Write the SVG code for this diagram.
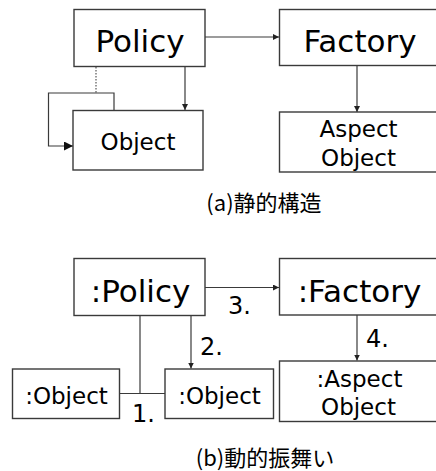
<svg xmlns="http://www.w3.org/2000/svg" width="436" height="471" viewBox="0 0 436 471">
  <style>
    .box { fill: #fff; stroke: #3a3a3a; stroke-width: 1.4; }
    .ln { fill: none; stroke: #3a3a3a; stroke-width: 1.2; }
    .dot { fill: none; stroke: #555; stroke-width: 1.2; stroke-dasharray: 1.5 1.5; }
    text { font-family: "DejaVu Sans", "Noto Sans CJK JP", sans-serif; fill: #000; text-anchor: middle; }
    .big { font-size: 31px; }
    .mid { font-size: 23px; }
    .num { font-size: 24px; text-anchor: start; }
    .cap { font-family: "Noto Sans CJK JP", sans-serif; font-size: 22px; }
  </style>
  <defs>
    <marker id="tip" viewBox="0 0 10 10" refX="10" refY="5" markerWidth="6" markerHeight="6" markerUnits="userSpaceOnUse" orient="auto">
      <path d="M0,0 L10,5 L0,10 Z" fill="#222"/>
    </marker>
    <marker id="tipBig" viewBox="0 0 10 10" refX="10" refY="5" markerWidth="13" markerHeight="9" markerUnits="userSpaceOnUse" orient="auto">
      <path d="M0,0 L10,5 L0,10 Z" fill="#111"/>
    </marker>
  </defs>

  <!-- (a) static structure -->
  <g id="connectors-a">
    <line class="ln" x1="205" y1="37" x2="279" y2="37" marker-end="url(#tip)"/>
    <line class="ln" x1="185" y1="67" x2="185" y2="110" marker-end="url(#tip)"/>
    <line class="ln" x1="357" y1="66" x2="357" y2="112" marker-end="url(#tip)"/>
    <line class="dot" x1="96" y1="67" x2="96" y2="93"/>
    <polyline class="ln" points="114,110 114,93 48.5,93 48.5,146 73,146" marker-end="url(#tipBig)"/>
  </g>
  <g id="policy">
    <rect class="box" x="74" y="9.5" width="131" height="57"/>
    <text class="big" x="140" y="52">Policy</text>
  </g>
  <g id="factory">
    <rect class="box" x="279.5" y="9.5" width="170" height="56"/>
    <text class="big" x="360" y="52">Factory</text>
  </g>
  <g id="object">
    <rect class="box" x="73" y="110.5" width="130" height="59.5"/>
    <text class="mid" x="138" y="150">Object</text>
  </g>
  <g id="aspect-object">
    <rect class="box" x="279.5" y="112" width="170" height="60"/>
    <text class="mid" x="358.5" y="137">Aspect</text>
    <text class="mid" x="358.5" y="166">Object</text>
  </g>
  <text class="cap" x="264" y="211">(a)静的構造</text>

  <!-- (b) dynamic behaviour -->
  <g id="connectors-b">
    <line class="ln" x1="205" y1="287.5" x2="279" y2="287.5" marker-end="url(#tip)"/>
    <line class="ln" x1="191" y1="316" x2="191" y2="368.5" marker-end="url(#tip)"/>
    <line class="ln" x1="357" y1="315" x2="357" y2="360.5" marker-end="url(#tip)"/>
    <line class="ln" x1="140" y1="316" x2="140" y2="393.5"/>
    <line class="ln" x1="119.5" y1="393.5" x2="165" y2="393.5"/>
    <text class="num" x="228" y="314">3.</text>
    <text class="num" x="200" y="355">2.</text>
    <text class="num" x="132" y="422">1.</text>
    <text class="num" x="366" y="346.5">4.</text>
  </g>
  <g id="policy-inst">
    <rect class="box" x="74" y="258.5" width="131" height="57"/>
    <text class="big" x="140.5" y="301.5">:Policy</text>
  </g>
  <g id="factory-inst">
    <rect class="box" x="279.5" y="258.5" width="170" height="56.5"/>
    <text class="big" x="359.5" y="301.5">:Factory</text>
  </g>
  <g id="object-inst-1">
    <rect class="box" x="12.5" y="369" width="107" height="49.5"/>
    <text class="mid" x="66.5" y="403.5">:Object</text>
  </g>
  <g id="object-inst-2">
    <rect class="box" x="165" y="369" width="108.5" height="49.5"/>
    <text class="mid" x="219.5" y="403.5">:Object</text>
  </g>
  <g id="aspect-object-inst">
    <rect class="box" x="279.5" y="361" width="170" height="60.5"/>
    <text class="mid" x="359.5" y="386.5">:Aspect</text>
    <text class="mid" x="358.5" y="415">Object</text>
  </g>
  <text class="cap" x="265" y="466">(b)動的振舞い</text>
</svg>
